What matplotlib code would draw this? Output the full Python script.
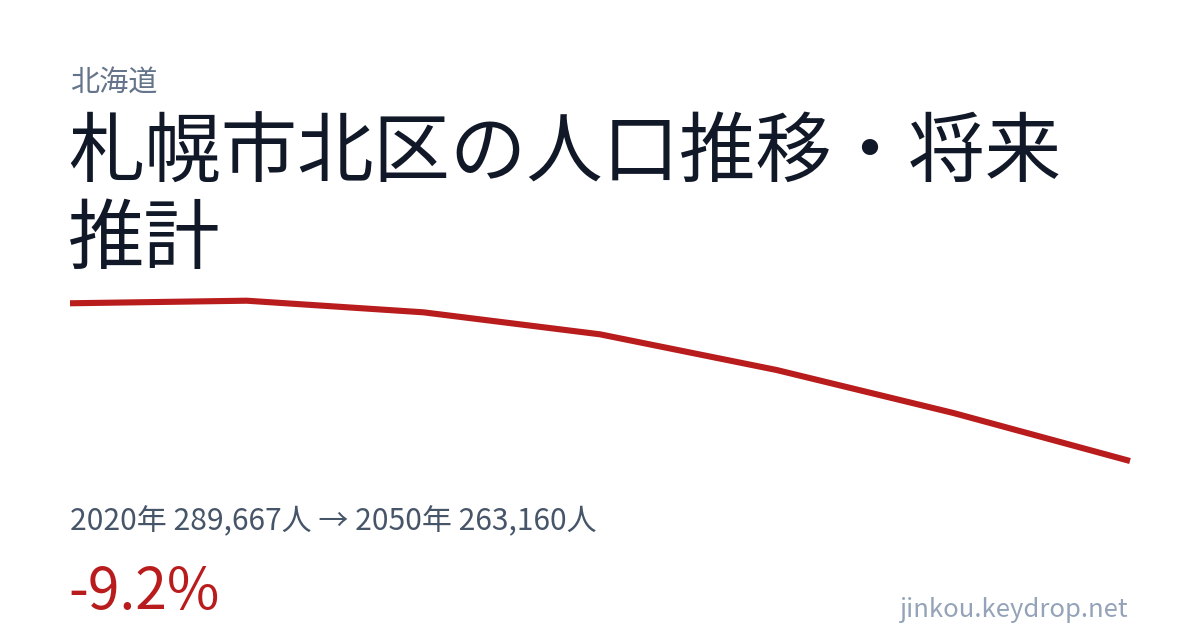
import matplotlib
matplotlib.use("Agg")
import matplotlib.pyplot as plt

plt.rcParams['font.family'] = ['Noto Sans CJK JP', 'DejaVu Sans']

# population (end points from the caption)
years = [2020, 2025, 2030, 2035, 2040, 2045, 2050]
population = [289667, 290100, 288150, 284450, 278450, 271230, 263160]

region = "北海道"
title_lines = ["札幌市北区の人口推移・将来", "推計"]
summary = "2020年 289,667人 → 2050年 263,160人"
change = "-9.2%"
site = "jinkou.keydrop.net"

W, H = 1200, 630
fig = plt.figure(figsize=(W / 100, H / 100), dpi=100)
fig.patch.set_facecolor("white")


def px(x, y):
    return x / W, 1 - y / H


# line area: x 70..1130, top at the max value, bottom at the min value
top_px, bot_px = 300.7, 461
ax = fig.add_axes([70 / W, 1 - bot_px / H, 1060 / W, (bot_px - top_px) / H])
ax.plot(years, population, color="#b91c1c", lw=4.4, solid_capstyle="butt",
        solid_joinstyle="round", clip_on=False)
ax.set_xlim(years[0], years[-1])
ax.set_ylim(min(population), max(population))
ax.axis("off")

fig.text(*px(70, 91), region, fontsize=21, color="#64748b", va="baseline")
fig.text(*px(68, 177), title_lines[0], fontsize=55, color="#111827", va="baseline")
fig.text(*px(68, 263), title_lines[1], fontsize=55, color="#111827", va="baseline")
fig.text(*px(70, 530), summary, fontsize=21.6, color="#475569", va="baseline")
fig.text(*px(68, 609), change, fontsize=41, color="#b91c1c", va="baseline")
fig.text(*px(1128, 617), site, fontsize=18.5, color="#94a3b8", va="baseline", ha="right")

fig.savefig("out.png", dpi=100, facecolor="white")
